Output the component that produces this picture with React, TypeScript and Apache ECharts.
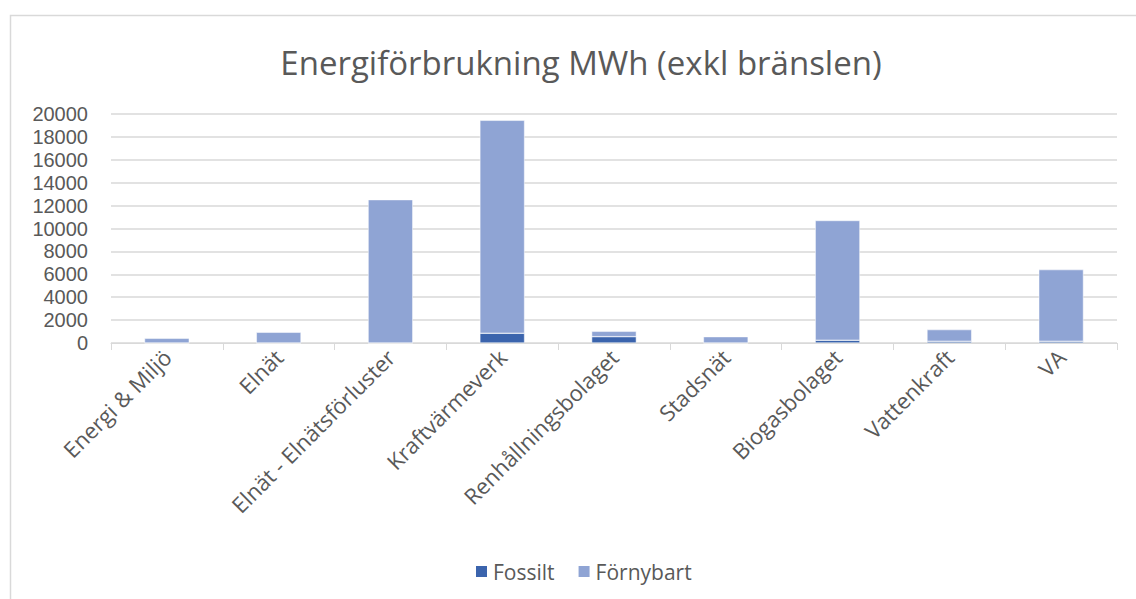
import React, { useEffect, useRef } from "react";
import * as echarts from "echarts";

const categories = [
  "Energi & Miljö",
  "Elnät",
  "Elnät - Elnätsförluster",
  "Kraftvärmeverk",
  "Renhållningsbolaget",
  "Stadsnät",
  "Biogasbolaget",
  "Vattenkraft",
  "VA",
];
const fossilt = [0, 0, 0, 850, 555, 0, 240, 150, 150];
const fornybart = [410, 935, 12520, 18600, 465, 555, 10460, 1020, 6260];
const yTicks = { min: 0, max: 20000, interval: 2000 };

const FONT = "'Open Sans', 'Noto Sans', sans-serif";
const TXT = "#595959";

export default function App() {
  const ref = useRef<HTMLDivElement>(null);
  useEffect(() => {
    if (!ref.current) return;
    const chart = echarts.init(ref.current, null, { renderer: "svg" });
    chart.setOption({
      animation: false,
      backgroundColor: "#ffffff",
      textStyle: { fontFamily: FONT },
      title: {
        text: "Energiförbrukning MWh (exkl bränslen)",
        left: 576,
        textAlign: "center",
        top: 41,
        textStyle: { fontFamily: FONT, fontSize: 33, fontWeight: "normal", color: TXT },
      },
      graphic: [
        {
          type: "rect",
          shape: { x: 10.5, y: 15.5, width: 1400, height: 800 },
          style: { fill: "none", stroke: "#d9d9d9", lineWidth: 1.5 },
          silent: true,
          z: -1,
        },
      ],
      legend: {
        data: ["Fossilt", "Förnybart"],
        left: 469,
        top: 556,
        itemWidth: 13,
        itemHeight: 13,
        itemGap: 22,
        icon: "rect",
        textStyle: { fontFamily: FONT, fontSize: 21, color: TXT },
      },
      grid: { left: 111, right: 19, top: 114, bottom: 256, containLabel: false },
      xAxis: {
        type: "category",
        data: categories,
        axisLine: { lineStyle: { color: "#d9d9d9", width: 1 } },
        axisTick: { show: true, length: 7, lineStyle: { color: "#d9d9d9" } },
        axisLabel: {
          rotate: 45,
          interval: 0,
          margin: 10,
          color: TXT,
          fontFamily: FONT,
          fontSize: 22,
        },
      },
      yAxis: {
        type: "value",
        min: yTicks.min,
        max: yTicks.max,
        interval: yTicks.interval,
        axisLine: { show: false },
        axisTick: { show: false },
        splitLine: { lineStyle: { color: "#d9d9d9", width: 1.5 } },
        axisLabel: {
          margin: 23,
          color: TXT,
          fontFamily: "'Liberation Sans', sans-serif",
          fontSize: 20,
          lineHeight: 20,
          formatter: (v: number) => String(v),
        },
      },
      series: [
        {
          name: "Fossilt",
          type: "bar",
          stack: "total",
          data: fossilt,
          barWidth: "40%",
          itemStyle: { color: "#3b64ad", borderColor: "#ffffff", borderWidth: 0.5 },
        },
        {
          name: "Förnybart",
          type: "bar",
          stack: "total",
          data: fornybart,
          barWidth: "40%",
          itemStyle: { color: "#8fa4d4", borderColor: "#ffffff", borderWidth: 0.5 },
        },
      ],
    });
    return () => chart.dispose();
  }, []);
  return (
    <div
      ref={ref}
      style={{ position: "fixed", left: 0, top: 0, width: 1136, height: 599 }}
    />
  );
}
